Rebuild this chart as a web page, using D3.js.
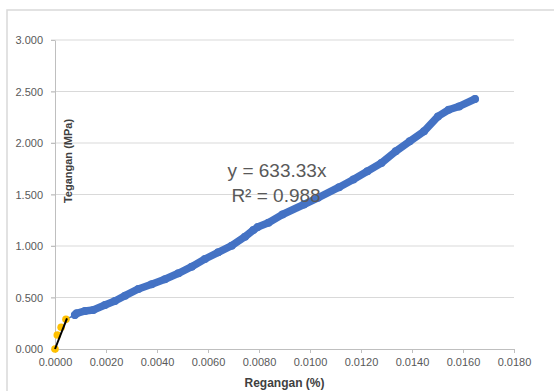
<!DOCTYPE html>
<html>
<head>
<meta charset="utf-8">
<script src="https://cdn.jsdelivr.net/npm/d3@7"></script>
<style>
  body { margin: 0; background: #fff; }
  svg text { font-family: "Liberation Sans", Arial, sans-serif; }
</style>
</head>
<body>
<svg id="chart" width="554" height="391"></svg>
<script>
// strain (%) vs stress (MPa)
const elasticX = [0, 0.00009, 0.00024, 0.00043];
const elasticY = [0, 0.136, 0.211, 0.288];

const strainX = [0.00078, 0.00085, 0.00118, 0.0015, 0.00196, 0.00235, 0.00275, 0.00327, 0.00379,
  0.00431, 0.00484, 0.00536, 0.00588, 0.0064, 0.00693, 0.00745, 0.00778, 0.00795, 0.00837,
  0.00892, 0.00976, 0.01031, 0.01114, 0.0117, 0.01225, 0.0128, 0.01336, 0.01391, 0.01447,
  0.01502, 0.01544, 0.01585, 0.01647];
const stressY = [0.330, 0.347, 0.369, 0.379, 0.427, 0.466, 0.518, 0.583, 0.628,
  0.677, 0.735, 0.799, 0.874, 0.939, 1.003, 1.09, 1.155, 1.184, 1.226,
  1.306, 1.403, 1.468, 1.571, 1.645, 1.726, 1.806, 1.919, 2.016, 2.113,
  2.258, 2.323, 2.355, 2.427];

const xTicks = [0, 0.002, 0.004, 0.006, 0.008, 0.010, 0.012, 0.014, 0.016, 0.018];
const yTicks = [0, 0.5, 1.0, 1.5, 2.0, 2.5, 3.0];
const slope = 633.33;

const svg = d3.select("#chart");

// chart frame
svg.append("rect")
  .attr("x", 7).attr("y", 10)
  .attr("width", 600).attr("height", 500)
  .attr("fill", "none")
  .attr("stroke", "#d9d9d9")
  .attr("stroke-width", 1.5);

const x = d3.scaleLinear().domain([0, 0.018]).range([55, 514]);
const y = d3.scaleLinear().domain([0, 3]).range([349, 40]);

// gridlines
svg.append("g")
  .selectAll("line")
  .data(yTicks.slice(1))
  .join("line")
  .attr("x1", x(0) - 4).attr("x2", x(0.018))
  .attr("y1", d => y(d)).attr("y2", d => y(d))
  .attr("stroke", "#d9d9d9").attr("stroke-width", 1);

// x axis
const xAxis = svg.append("g")
  .attr("transform", "translate(0," + y(0) + ")")
  .call(d3.axisBottom(x).tickValues(xTicks).tickFormat(d3.format(".4f")).tickSize(4).tickSizeOuter(0));
xAxis.select(".domain").attr("stroke", "#bfbfbf");
xAxis.selectAll(".tick line").attr("stroke", "#bfbfbf");
xAxis.selectAll("text")
  .attr("fill", "#595959")
  .attr("font-size", "11px")
  .attr("dy", "0.95em");

// y axis
const yAxis = svg.append("g")
  .attr("transform", "translate(" + x(0) + ",0)")
  .call(d3.axisLeft(y).tickValues(yTicks).tickFormat(d3.format(".3f")).tickSize(4).tickSizeOuter(0));
yAxis.select(".domain").attr("stroke", "#bfbfbf");
yAxis.selectAll(".tick line").attr("stroke", "#bfbfbf");
yAxis.selectAll("text")
  .attr("fill", "#595959")
  .attr("font-size", "11px")
  .attr("x", -12);

// axis titles
svg.append("text")
  .attr("x", (x(0) + x(0.018)) / 2)
  .attr("y", 387)
  .attr("text-anchor", "middle")
  .attr("font-size", "12px")
  .attr("font-weight", "bold")
  .attr("fill", "#404040")
  .text("Regangan (%)");

svg.append("text")
  .attr("transform", "translate(72,161) rotate(-90)")
  .attr("text-anchor", "middle")
  .attr("font-size", "11px")
  .attr("font-weight", "bold")
  .attr("fill", "#404040")
  .text("Tegangan (MPa)");

// main series
const blue = strainX.map((d, i) => [d, stressY[i]]);
const line = d3.line().x(d => x(d[0])).y(d => y(d[1])).curve(d3.curveLinear);

// thin join from elastic part into the plastic part
svg.append("path")
  .datum([[elasticX[3], elasticY[3]], blue[0]])
  .attr("d", line)
  .attr("fill", "none")
  .attr("stroke", "#4472c4")
  .attr("stroke-width", 1.5);

svg.append("path")
  .datum(blue)
  .attr("d", line)
  .attr("fill", "none")
  .attr("stroke", "#4472c4")
  .attr("stroke-width", 7.5)
  .attr("stroke-linejoin", "round")
  .attr("stroke-linecap", "round");

svg.append("g")
  .selectAll("circle")
  .data(blue)
  .join("circle")
  .attr("cx", d => x(d[0]))
  .attr("cy", d => y(d[1]))
  .attr("r", 4)
  .attr("fill", "#4472c4");

// elastic series
svg.append("g")
  .selectAll("circle")
  .data(elasticX.map((d, i) => [d, elasticY[i]]))
  .join("circle")
  .attr("cx", d => x(d[0]))
  .attr("cy", d => y(d[1]))
  .attr("r", 3.8)
  .attr("fill", "#ffc000");

// linear trendline through origin
const xEnd = d3.max(elasticX) + 0.00004;
svg.append("line")
  .attr("x1", x(0)).attr("y1", y(0))
  .attr("x2", x(xEnd)).attr("y2", y(slope * xEnd))
  .attr("stroke", "#000")
  .attr("stroke-width", 2);

// trendline label
const label = svg.append("text")
  .attr("text-anchor", "middle")
  .attr("font-size", "19px")
  .attr("fill", "#595959");
label.append("tspan").attr("x", 277).attr("y", 177).text("y = 633.33x");
label.append("tspan").attr("x", 276).attr("y", 202).text("R² = 0.988");
</script>
</body>
</html>
